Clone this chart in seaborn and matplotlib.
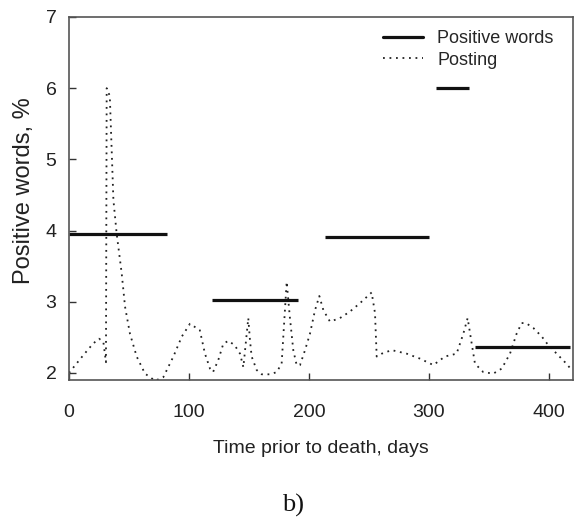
import numpy as np
import pandas as pd
import matplotlib
matplotlib.use("Agg")
import matplotlib.pyplot as plt
import seaborn as sns
from matplotlib.lines import Line2D

# ---- data ----
posting_days = [0, 12, 20, 25, 28.6, 30.8, 31.4, 34, 37, 39.7, 43.9, 46.7, 50.8, 56.4, 63.3,
                71.7, 78.6, 87, 94, 100.8, 109, 113.3, 117.5, 120, 124.4, 128.6, 132.8, 138,
                142.5, 145.3, 149.4, 150.8, 152.2, 156.4, 160.6, 167.5, 173, 177.2, 181.4, 184,
                186.9, 189.7, 192.5, 196.7, 200.8, 205, 208.6, 212, 217.5, 225.8, 234, 242.5,
                252.2, 255, 256.4, 260.6, 268.9, 281.4, 292.5, 303.6, 313.3, 323, 328.6, 332.2,
                335.6, 338.3, 345.3, 353.6, 360.6, 367.5, 373, 377.2, 380.8, 387, 394, 399.4,
                406.4, 413.3, 418]
posting_vals = [2.0, 2.25, 2.41, 2.48, 2.44, 2.15, 6.0, 5.89, 4.43, 3.96, 3.40, 2.93, 2.55, 2.23,
                1.99, 1.89, 1.94, 2.23, 2.51, 2.69, 2.6, 2.27, 2.06, 2.01, 2.18, 2.41, 2.45, 2.39,
                2.27, 2.08, 2.77, 2.46, 2.23, 2.04, 1.98, 1.98, 2.01, 2.13, 3.28, 2.79,
                2.32, 2.11, 2.11, 2.32, 2.55, 2.88, 3.08, 2.88, 2.72, 2.77, 2.86, 2.98,
                3.13, 2.84, 2.23, 2.27, 2.32, 2.27, 2.20, 2.11, 2.23, 2.27, 2.55, 2.77,
                2.41, 2.13, 2.01, 1.99, 2.06, 2.27, 2.55, 2.70, 2.70, 2.63, 2.51, 2.39,
                2.27, 2.15, 2.06]

seg_start = [0, 119, 213, 338, 306]
seg_end = [81.5, 190.5, 300, 417.5, 333]
seg_value = [3.95, 3.03, 3.91, 2.37, 6.0]

x_ticks = [0, 100, 200, 300, 400]
y_ticks = [2, 3, 4, 5, 6, 7]

sns.set_theme(style="white")
plt.rcParams['font.family'] = ['Liberation Sans', 'DejaVu Sans']

fig = plt.figure(figsize=(5.77, 5.20), dpi=100)
ax = fig.add_axes([69/577, 1-380/520, (573-69)/577, (380-17)/520])

dot_style = (0, (1, 2.6))
df = pd.DataFrame({"day": posting_days, "val": posting_vals})
sns.lineplot(data=df, x="day", y="val", ax=ax, sort=False, estimator=None,
             color="#222222", linestyle=dot_style, linewidth=1.3)

ax.hlines(seg_value, seg_start, seg_end, colors="#111111", linewidth=2.3)

ax.set_xlim(0, 420)
ax.set_ylim(1.9, 7)
ax.set_xticks(x_ticks)
ax.set_yticks(y_ticks)
ax.tick_params(axis='both', direction='in', length=5, width=1, color='#333333',
               labelsize=14, labelcolor='#222222', top=False, right=False,
               bottom=True, left=True)
ax.tick_params(axis='x', pad=17)
ax.tick_params(axis='y', pad=9)
for s in ax.spines.values():
    s.set_color('#555555')
    s.set_linewidth(1.2)

ax.set_xlabel("Time prior to death, days", fontsize=14, color='#222222', labelpad=14)
ax.set_ylabel("Positive words, %", fontsize=17, color='#222222')
ax.yaxis.label.set_va('center')
ax.yaxis.set_label_coords((24-69)/504, 1-(191-17)/363)

handles = [Line2D([], [], color="#111111", linewidth=2.3),
           Line2D([], [], color="#222222", linestyle=dot_style, linewidth=1.3)]
ax.legend(handles, ["Positive words", "Posting"], loc="upper left",
          bbox_to_anchor=((383-69)/504, 1-(30-17)/363), frameon=False,
          fontsize=13, handlelength=2.2, handletextpad=0.8, borderpad=0,
          borderaxespad=0, labelspacing=0.25)

fig.text(293/577, 1-505/520, "b)", ha='center', va='center', fontsize=19,
         family=['Liberation Serif', 'DejaVu Serif'], color='#111111')

fig.savefig("out.png", dpi=100)
